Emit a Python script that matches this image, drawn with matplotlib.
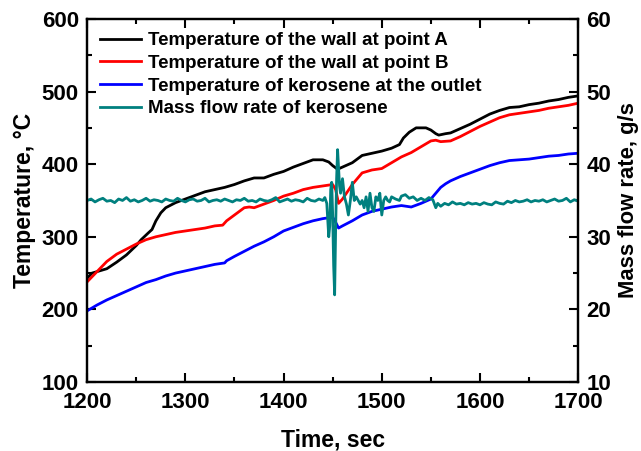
import matplotlib
matplotlib.use("Agg")
import matplotlib.pyplot as plt
from matplotlib.ticker import MultipleLocator

plt.rcParams['font.family'] = ['Liberation Sans', 'DejaVu Sans']
plt.rcParams['font.weight'] = 'bold'

# Wall temperature at point A
tA = [1200, 1205, 1210, 1220, 1230, 1240, 1250, 1255, 1262, 1266, 1270, 1275, 1280, 1290,
      1300, 1310, 1320, 1330, 1340, 1350, 1360, 1370, 1380, 1390, 1400, 1410, 1420, 1430,
      1440, 1446, 1450, 1455, 1460, 1465, 1470, 1480, 1490, 1500, 1510, 1518, 1522, 1528,
      1535, 1545, 1550, 1555, 1558, 1565, 1570, 1580, 1590, 1600, 1610, 1620, 1630, 1640,
      1650, 1660, 1670, 1680, 1690, 1700]
TA = [243, 250, 252, 256, 265, 275, 288, 296, 305, 310, 322, 333, 340, 347,
      352, 357, 362, 365, 368, 372, 377, 381, 381, 386, 390, 396, 401, 406,
      406, 403, 398, 393, 396, 399, 402, 412, 415, 418, 422, 427, 436, 444,
      450, 450, 447, 442, 440, 442, 443, 449, 455, 462, 469, 474, 478, 479,
      482, 484, 487, 489, 492, 494]

# Wall temperature at point B
tB = [1200, 1210, 1220, 1230, 1240, 1250, 1260, 1270, 1280, 1290, 1300, 1310, 1320, 1330,
      1338, 1342, 1350, 1360, 1365, 1370, 1380, 1390, 1400, 1410, 1420, 1430, 1440, 1450,
      1453, 1456, 1460, 1465, 1470, 1480, 1490, 1500, 1510, 1520, 1530, 1540, 1550, 1555,
      1560, 1570, 1580, 1590, 1600, 1610, 1620, 1630, 1640, 1650, 1660, 1670, 1680, 1690,
      1700]
TB = [238, 252, 266, 276, 283, 290, 296, 300, 303, 306, 308, 310, 312, 315,
      316, 322, 330, 340, 341, 340, 345, 350, 356, 360, 365, 368, 370, 372,
      365, 346, 352, 362, 372, 388, 392, 394, 402, 410, 416, 424, 432, 433,
      431, 432, 438, 445, 452, 458, 464, 468, 470, 472, 474, 477, 479, 481,
      484]

# Kerosene temperature at the outlet
tK = [1200, 1210, 1220, 1230, 1240, 1250, 1260, 1270, 1280, 1290, 1300, 1310, 1320, 1330,
      1340, 1342, 1350, 1360, 1370, 1380, 1390, 1400, 1410, 1420, 1430, 1440, 1450, 1453,
      1456, 1460, 1470, 1480, 1490, 1500, 1510, 1520, 1530, 1540, 1550, 1555, 1560, 1565,
      1570, 1580, 1590, 1600, 1610, 1620, 1630, 1640, 1650, 1660, 1670, 1680, 1690, 1700]
TK = [198, 206, 213, 219, 225, 231, 237, 241, 246, 250, 253, 256, 259, 262,
      264, 267, 273, 280, 287, 293, 300, 308, 313, 318, 322, 325, 327, 320,
      312, 315, 322, 330, 335, 338, 341, 343, 341, 346, 352, 360, 368, 373,
      377, 383, 388, 393, 398, 402, 405, 406, 407, 409, 411, 412, 414, 415]

# Mass flow rate of kerosene (g/s)
tM = [1200, 1204, 1208, 1212, 1216, 1220, 1224, 1228, 1232, 1236, 1240, 1244, 1248, 1252,
      1256, 1260, 1264, 1268, 1272, 1276, 1280, 1284, 1288, 1292, 1296, 1300, 1304, 1308,
      1312, 1316, 1320, 1324, 1328, 1332, 1336, 1340, 1344, 1348, 1352, 1356, 1360, 1364,
      1368, 1372, 1376, 1380, 1384, 1388, 1392, 1396, 1400, 1404, 1408, 1412, 1416, 1420,
      1424, 1428, 1432, 1436, 1440, 1442, 1444, 1446, 1447, 1448, 1449, 1450, 1451, 1452,
      1453, 1454, 1455, 1456, 1457, 1458, 1460, 1462, 1464, 1466, 1468, 1470, 1472, 1474,
      1476, 1478, 1480, 1482, 1484, 1486, 1488, 1490, 1492, 1494, 1496, 1498, 1500, 1502,
      1504, 1506, 1508, 1510, 1514, 1518, 1520, 1524, 1528, 1532, 1536, 1540, 1544, 1548,
      1552, 1555, 1557, 1560, 1564, 1568, 1572, 1576, 1580, 1584, 1588, 1592, 1596, 1600,
      1604, 1608, 1612, 1616, 1620, 1624, 1628, 1632, 1636, 1640, 1644, 1648, 1652, 1656,
      1660, 1664, 1668, 1672, 1676, 1680, 1684, 1688, 1692, 1696, 1700]
M = [35.0, 35.2, 34.8, 35.1, 35.3, 34.9, 35.0, 34.7, 35.2, 35.0, 35.4, 34.9, 35.1, 34.8,
     35.0, 35.3, 34.9, 35.1, 35.0, 34.8, 35.2, 35.0, 34.9, 35.3, 35.0, 34.8, 35.1, 35.2,
     34.9, 35.0, 35.3, 34.8, 35.0, 35.1, 34.9, 35.2, 35.0, 34.8, 35.1, 35.0, 35.3, 34.9,
     35.0, 34.8, 35.2, 35.0, 34.9, 35.1, 35.4, 34.8, 35.0, 35.2, 34.9, 35.1, 35.0, 34.8,
     35.3, 35.0, 34.9, 35.2, 35.0, 35.4, 34.6, 30.0, 31.5, 36.5, 37.5, 33.0, 26.0, 22.0,
     31.0, 38.0, 42.0, 39.5, 37.0, 36.0, 38.0, 35.5, 34.5, 33.0, 35.0, 37.5, 35.0, 35.5,
     35.0, 34.5, 35.0, 34.0, 35.5, 33.5, 36.0, 34.0, 33.5, 35.5, 35.0, 36.0, 33.0, 35.0,
     35.5, 35.0, 34.8, 35.5, 35.2, 35.0, 35.6, 35.8, 35.3, 35.5, 35.0, 35.3, 35.0, 35.4,
     35.1, 34.0, 34.6, 34.2, 34.6, 34.4, 34.8, 34.5, 34.6, 34.4, 34.7, 34.5, 34.6, 34.4,
     34.7, 34.5, 34.4, 34.8, 34.6, 34.5, 34.9, 34.7, 35.0, 34.8, 34.9, 35.1, 34.8, 35.0,
     34.9, 35.1, 34.8, 35.0, 35.2, 34.9, 35.0, 35.3, 34.8, 35.1, 34.9]

fig = plt.figure(figsize=(6.41, 4.51), dpi=100)
ax = fig.add_axes([0.136, 0.153, 0.766, 0.805])
ax2 = ax.twinx()

lA, = ax.plot(tA, TA, color='black', lw=2, label='Temperature of the wall at point A')
lB, = ax.plot(tB, TB, color='#ff0000', lw=2, label='Temperature of the wall at point B')
lK, = ax.plot(tK, TK, color='#0000ff', lw=2, label='Temperature of kerosene at the outlet')
lM, = ax2.plot(tM, M, color='#00807f', lw=2, label='Mass flow rate of kerosene')

ax.set_xlim(1200, 1700)
ax.set_ylim(100, 600)
ax2.set_ylim(10, 60)

ax.xaxis.set_major_locator(MultipleLocator(100))
ax.xaxis.set_minor_locator(MultipleLocator(50))
ax.yaxis.set_major_locator(MultipleLocator(100))
ax.yaxis.set_minor_locator(MultipleLocator(50))
ax2.yaxis.set_major_locator(MultipleLocator(10))
ax2.yaxis.set_minor_locator(MultipleLocator(5))

ax.tick_params(axis='x', which='major', direction='in', length=6.5, width=1.5,
               labelsize=16, top=True, pad=7.5)
ax.tick_params(axis='x', which='minor', direction='in', length=3.7, width=1.5, top=True)
ax.tick_params(axis='y', which='major', direction='in', length=6.5, width=1.5,
               labelsize=16, right=False, pad=6)
ax.tick_params(axis='y', which='minor', direction='in', length=3.7, width=1.5, right=False)
ax2.tick_params(axis='y', which='major', direction='in', length=6.5, width=1.5,
                labelsize=16, pad=6)
ax2.tick_params(axis='y', which='minor', direction='in', length=3.7, width=1.5)

for a in (ax, ax2):
    for s in a.spines.values():
        s.set_linewidth(1.6)
    for lbl in a.get_xticklabels() + a.get_yticklabels():
        lbl.set_fontweight('bold')

ax.set_xlabel('Time, sec', fontsize=16.5, fontweight='bold', labelpad=11)
ax.set_ylabel('Temperature, °C', fontsize=16.5, fontweight='bold', labelpad=4)
ax2.set_ylabel('Mass flow rate, g/s', fontsize=15.8, fontweight='bold', labelpad=5)

leg = ax.legend(handles=[lA, lB, lK, lM], loc='upper left', frameon=False,
                prop={'size': 13.5, 'weight': 'bold'}, handlelength=2.15,
                handletextpad=0.4, labelspacing=0.3, borderaxespad=0.3,
                bbox_to_anchor=(0.0, 1.0))

fig.savefig('out.png', dpi=100)
